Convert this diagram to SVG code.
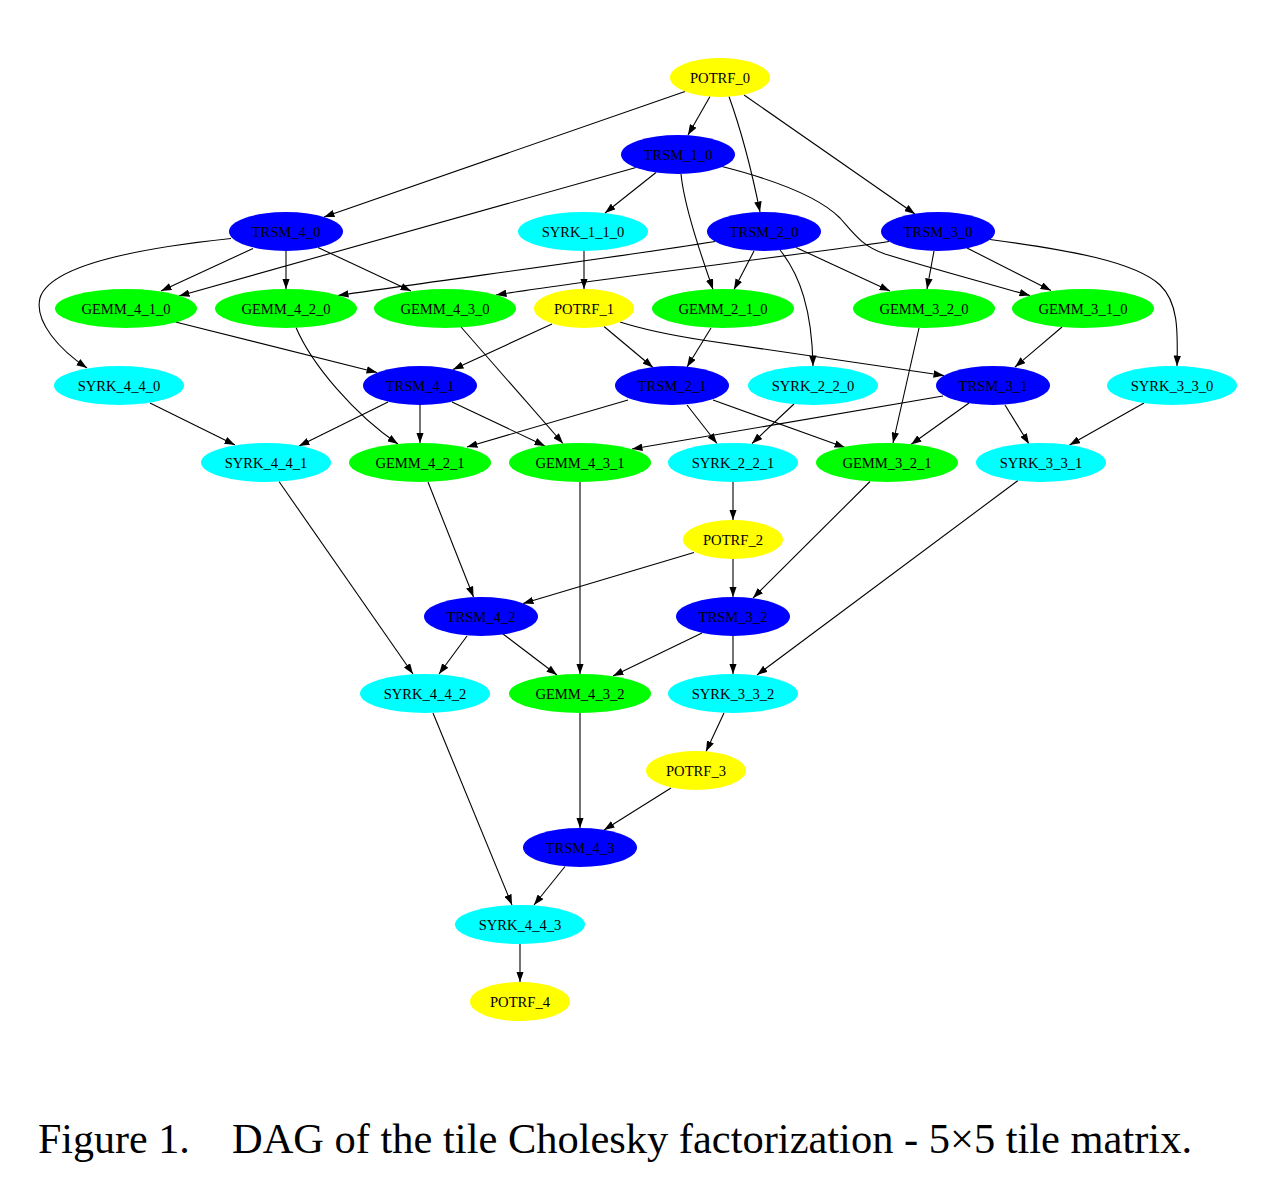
<svg xmlns="http://www.w3.org/2000/svg" width="1262" height="1189" viewBox="0 0 1262 1189">
<style>
.n text{font-family:"Liberation Serif","Times New Roman",serif;font-size:14.6px;text-anchor:middle;fill:#000}
.potrf ellipse{fill:#ffff00}
.trsm ellipse{fill:#0000ff}
.syrk ellipse{fill:#00ffff}
.gemm ellipse{fill:#00ff00}
#edges path{fill:none;stroke:#000;stroke-width:1.1;marker-end:url(#ah)}
.cap{font-family:"Liberation Serif","Times New Roman",serif;font-size:42px;fill:#000}
</style>
<defs>
<marker id="ah" viewBox="0 0 10.5 7.5" refX="10.5" refY="3.75" markerWidth="10.5" markerHeight="7.5" markerUnits="userSpaceOnUse" orient="auto">
<path d="M0,0 L10.5,3.75 L0,7.5 z" fill="#000"/>
</marker>
</defs>
<rect width="1262" height="1189" fill="#fff"/>
<g id="edges">
<path d="M710,96.5 L688,135"/>
<path d="M729,96.5 C741,130 752,172 760,212"/>
<path d="M744,95 L915,214"/>
<path d="M685,91.5 L324,217"/>
<path d="M656,172.5 L605,213"/>
<path d="M636,167.5 L179,296"/>
<path d="M681,174 C684,205 700,252 713,289.5"/>
<path d="M722,166.5 C775,180 820,198 840,218 C855,235 862,246 885,254 C930,268 985,283 1030,295.5"/>
<path d="M754,251 L734,289.5"/>
<path d="M715,241.5 C620,257 420,283 338,295.5"/>
<path d="M780,250 C800,275 812,310 813,366"/>
<path d="M796,247.5 L890,291"/>
<path d="M889,241.5 C800,255 580,281 496,295"/>
<path d="M934,251 L927,289"/>
<path d="M967,248 L1051,290.5"/>
<path d="M990,239.5 C1070,250 1135,262 1160,285 C1178,302 1178,330 1177,366"/>
<path d="M253,248.5 L161,291"/>
<path d="M286,251 L286,289"/>
<path d="M318,247.5 L411,291"/>
<path d="M231,238.5 C140,248 50,265 40,298 C34,322 60,350 87,368"/>
<path d="M584,251 L584,289"/>
<path d="M175.5,322 L377,372.5"/>
<path d="M296,327.5 C312,365 355,415 398,444"/>
<path d="M461,327 L563,443.5"/>
<path d="M552,324 L453,369.5"/>
<path d="M604,326.5 L653,367.5"/>
<path d="M620,322 C645,330 670,335 702,340 L944,375.5"/>
<path d="M711,328 L687,367"/>
<path d="M1062,327 L1015,367"/>
<path d="M919,328 L893,443"/>
<path d="M1144,403 L1069.5,445"/>
<path d="M794,404 L752,443.5"/>
<path d="M969,403 L911,444.5"/>
<path d="M1005,405 L1029,444"/>
<path d="M943,396 L632,449"/>
<path d="M628,400 L467,447"/>
<path d="M687,405 L717,443.5"/>
<path d="M713,400 L845,447.5"/>
<path d="M388,402 L299,446"/>
<path d="M420,405 L420,443"/>
<path d="M452,402 L545,446"/>
<path d="M150,403 L235,445"/>
<path d="M733,482 L733,520"/>
<path d="M694,552.5 L523,603.5"/>
<path d="M733,559 L733,597"/>
<path d="M870,481.5 L753,598"/>
<path d="M428,482 L473.5,597"/>
<path d="M580,482 L580,674"/>
<path d="M279,481.5 L413,674"/>
<path d="M1018,480.5 L757,675"/>
<path d="M467,636 L439,674"/>
<path d="M503,634 L557,675"/>
<path d="M702,633 L613,676"/>
<path d="M733,636 L733,674"/>
<path d="M724,713 L706,751.5"/>
<path d="M671,788 L604,830"/>
<path d="M580,713 L580,828"/>
<path d="M433,713 L512,905"/>
<path d="M565,866.5 L534,905"/>
<path d="M520,944 L520,982"/>
</g>
<g id="POTRF_0" class="n potrf"><ellipse cx="720" cy="77.5" rx="50" ry="19.5"/><text x="720" y="82.5">POTRF_0</text></g>
<g id="TRSM_1_0" class="n trsm"><ellipse cx="678" cy="154.5" rx="57" ry="19.5"/><text x="678" y="159.5">TRSM_1_0</text></g>
<g id="TRSM_4_0" class="n trsm"><ellipse cx="286" cy="231.5" rx="57" ry="19.5"/><text x="286" y="236.5">TRSM_4_0</text></g>
<g id="SYRK_1_1_0" class="n syrk"><ellipse cx="583" cy="231.5" rx="65" ry="19.5"/><text x="583" y="236.5">SYRK_1_1_0</text></g>
<g id="TRSM_2_0" class="n trsm"><ellipse cx="764" cy="231.5" rx="57" ry="19.5"/><text x="764" y="236.5">TRSM_2_0</text></g>
<g id="TRSM_3_0" class="n trsm"><ellipse cx="938" cy="231.5" rx="57" ry="19.5"/><text x="938" y="236.5">TRSM_3_0</text></g>
<g id="GEMM_4_1_0" class="n gemm"><ellipse cx="126" cy="308.5" rx="71" ry="19.5"/><text x="126" y="313.5">GEMM_4_1_0</text></g>
<g id="GEMM_4_2_0" class="n gemm"><ellipse cx="286" cy="308.5" rx="71" ry="19.5"/><text x="286" y="313.5">GEMM_4_2_0</text></g>
<g id="GEMM_4_3_0" class="n gemm"><ellipse cx="445" cy="308.5" rx="71" ry="19.5"/><text x="445" y="313.5">GEMM_4_3_0</text></g>
<g id="POTRF_1" class="n potrf"><ellipse cx="584" cy="308.5" rx="50" ry="19.5"/><text x="584" y="313.5">POTRF_1</text></g>
<g id="GEMM_2_1_0" class="n gemm"><ellipse cx="723" cy="308.5" rx="71" ry="19.5"/><text x="723" y="313.5">GEMM_2_1_0</text></g>
<g id="GEMM_3_2_0" class="n gemm"><ellipse cx="924" cy="308.5" rx="71" ry="19.5"/><text x="924" y="313.5">GEMM_3_2_0</text></g>
<g id="GEMM_3_1_0" class="n gemm"><ellipse cx="1083" cy="308.5" rx="71" ry="19.5"/><text x="1083" y="313.5">GEMM_3_1_0</text></g>
<g id="SYRK_4_4_0" class="n syrk"><ellipse cx="119" cy="385.5" rx="65" ry="19.5"/><text x="119" y="390.5">SYRK_4_4_0</text></g>
<g id="TRSM_4_1" class="n trsm"><ellipse cx="420" cy="385.5" rx="57" ry="19.5"/><text x="420" y="390.5">TRSM_4_1</text></g>
<g id="TRSM_2_1" class="n trsm"><ellipse cx="672" cy="385.5" rx="57" ry="19.5"/><text x="672" y="390.5">TRSM_2_1</text></g>
<g id="SYRK_2_2_0" class="n syrk"><ellipse cx="813" cy="385.5" rx="65" ry="19.5"/><text x="813" y="390.5">SYRK_2_2_0</text></g>
<g id="TRSM_3_1" class="n trsm"><ellipse cx="993" cy="385.5" rx="57" ry="19.5"/><text x="993" y="390.5">TRSM_3_1</text></g>
<g id="SYRK_3_3_0" class="n syrk"><ellipse cx="1172" cy="385.5" rx="65" ry="19.5"/><text x="1172" y="390.5">SYRK_3_3_0</text></g>
<g id="SYRK_4_4_1" class="n syrk"><ellipse cx="266" cy="462.5" rx="65" ry="19.5"/><text x="266" y="467.5">SYRK_4_4_1</text></g>
<g id="GEMM_4_2_1" class="n gemm"><ellipse cx="420" cy="462.5" rx="71" ry="19.5"/><text x="420" y="467.5">GEMM_4_2_1</text></g>
<g id="GEMM_4_3_1" class="n gemm"><ellipse cx="580" cy="462.5" rx="71" ry="19.5"/><text x="580" y="467.5">GEMM_4_3_1</text></g>
<g id="SYRK_2_2_1" class="n syrk"><ellipse cx="733" cy="462.5" rx="65" ry="19.5"/><text x="733" y="467.5">SYRK_2_2_1</text></g>
<g id="GEMM_3_2_1" class="n gemm"><ellipse cx="887" cy="462.5" rx="71" ry="19.5"/><text x="887" y="467.5">GEMM_3_2_1</text></g>
<g id="SYRK_3_3_1" class="n syrk"><ellipse cx="1041" cy="462.5" rx="65" ry="19.5"/><text x="1041" y="467.5">SYRK_3_3_1</text></g>
<g id="POTRF_2" class="n potrf"><ellipse cx="733" cy="539.5" rx="50" ry="19.5"/><text x="733" y="544.5">POTRF_2</text></g>
<g id="TRSM_4_2" class="n trsm"><ellipse cx="481" cy="616.5" rx="57" ry="19.5"/><text x="481" y="621.5">TRSM_4_2</text></g>
<g id="TRSM_3_2" class="n trsm"><ellipse cx="733" cy="616.5" rx="57" ry="19.5"/><text x="733" y="621.5">TRSM_3_2</text></g>
<g id="SYRK_4_4_2" class="n syrk"><ellipse cx="425" cy="693.5" rx="65" ry="19.5"/><text x="425" y="698.5">SYRK_4_4_2</text></g>
<g id="GEMM_4_3_2" class="n gemm"><ellipse cx="580" cy="693.5" rx="71" ry="19.5"/><text x="580" y="698.5">GEMM_4_3_2</text></g>
<g id="SYRK_3_3_2" class="n syrk"><ellipse cx="733" cy="693.5" rx="65" ry="19.5"/><text x="733" y="698.5">SYRK_3_3_2</text></g>
<g id="POTRF_3" class="n potrf"><ellipse cx="696" cy="770.5" rx="50" ry="19.5"/><text x="696" y="775.5">POTRF_3</text></g>
<g id="TRSM_4_3" class="n trsm"><ellipse cx="580" cy="847.5" rx="57" ry="19.5"/><text x="580" y="852.5">TRSM_4_3</text></g>
<g id="SYRK_4_4_3" class="n syrk"><ellipse cx="520" cy="924.5" rx="65" ry="19.5"/><text x="520" y="929.5">SYRK_4_4_3</text></g>
<g id="POTRF_4" class="n potrf"><ellipse cx="520" cy="1001.5" rx="50" ry="19.5"/><text x="520" y="1006.5">POTRF_4</text></g>
<g id="caption">
<text class="cap" x="38" y="1153">Figure 1.</text>
<text class="cap" x="232" y="1153" textLength="960" lengthAdjust="spacingAndGlyphs">DAG of the tile Cholesky factorization - 5×5 tile matrix.</text>
</g>
</svg>
